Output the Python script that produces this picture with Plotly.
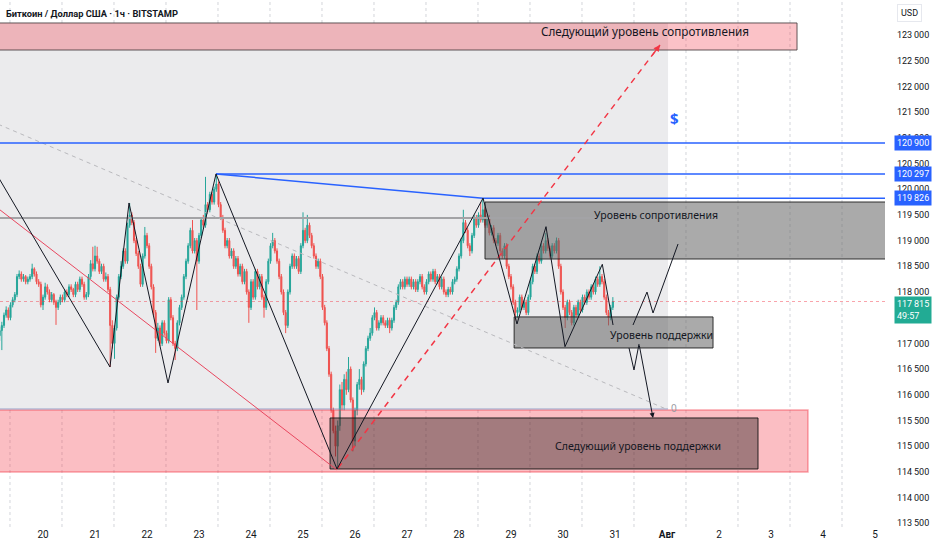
import plotly.graph_objects as go
from datetime import datetime, timedelta

# ---------------- data (BTC/USD, 1h, from Jul 19 04:00) ----------------
start_time = "2025-07-19 04:00"
first_open = 117150

close_jul19 = [117250, 117350, 117550, 117650, 117500, 117750, 117850, 117950, 118300, 118350,
               118250, 118300, 118200, 118250, 118300, 118450, 118350, 118200, 118150, 117750]
high_jul19 = [117320, 117420, 117600, 117720, 117700, 117800, 117900, 118000, 118350, 118420,
              118400, 118350, 118330, 118300, 118350, 118550, 118480, 118400, 118250, 118200]
low_jul19 = [117050, 116870, 117300, 117500, 117450, 117450, 117700, 117800, 117900, 118250,
             118200, 118200, 118150, 118150, 118200, 118250, 118300, 118150, 118100, 117700]

close_jul20 = [117900, 118100, 118000, 117850, 117950, 117800, 117700, 117800, 117900, 117850, 118000, 117950,
               118100, 118050, 117950, 118150, 118050, 118250, 118150, 117900, 117950, 118300, 118550, 118450]
high_jul20 = [117950, 118180, 118150, 118050, 118000, 117980, 117850, 117850, 117950, 117950, 118050, 118050,
              118150, 118150, 118080, 118200, 118200, 118300, 118300, 118200, 118000, 118350, 118620, 118880]
low_jul20 = [117650, 117850, 117950, 117800, 117800, 117750, 117360, 117650, 117750, 117800, 117800, 117900,
             117900, 118000, 117900, 117900, 118000, 118000, 118100, 117850, 117850, 117900, 118250, 118400]

close_jul21 = [118700, 118600, 118400, 118500, 118250, 118300, 118050, 117350, 117000, 117300, 117900, 118300,
               118500, 118800, 118600, 119300, 119500, 119350, 119000, 118750, 118500, 118150, 118700, 119100]
high_jul21 = [118900, 118880, 118650, 118550, 118550, 118380, 118350, 118100, 117450, 117350, 117950, 118350,
              118600, 118850, 118850, 119350, 119730, 119550, 119400, 119050, 118800, 118550, 118750, 119265]
low_jul21 = [118400, 118550, 118350, 118350, 118200, 118200, 118000, 116540, 116900, 116700, 117250, 117850,
             118250, 118450, 118550, 118550, 119250, 119300, 118950, 118700, 118450, 118100, 118100, 118650]

close_jul22 = [118900, 118500, 118100, 117600, 117100, 117300, 117000, 117400, 117200, 117050, 117850, 117500,
               117000, 116900, 117400, 117700, 117900, 118300, 118600, 118900, 119200, 118800, 119000, 118600]
high_jul22 = [119150, 118950, 118550, 118150, 117650, 117400, 117350, 117450, 117450, 117250, 117900, 117900,
              117550, 117050, 117450, 117750, 117950, 118350, 118650, 118950, 119250, 119400, 119050, 119050]
low_jul22 = [118850, 118450, 118050, 117550, 116815, 117050, 116950, 116950, 117150, 117000, 117000, 117450,
             116950, 116677, 116850, 117350, 117650, 117850, 118250, 118550, 118850, 118750, 118750, 117650]

close_jul23 = [119100, 119400, 119300, 119700, 119600, 119900, 119750, 120000, 120100, 119700, 119450, 119200,
               118900, 119000, 118700, 118800, 118500, 118650, 118350, 118500, 118200, 118400, 118000, 117700]
high_jul23 = [119150, 119450, 119500, 120240, 119750, 119950, 119950, 120050, 120297, 120150, 119750, 119500,
              119250, 119050, 119050, 118850, 118850, 118700, 118700, 118550, 118550, 118450, 118450, 118050]
low_jul23 = [118550, 119050, 119250, 119250, 119550, 119550, 119700, 119700, 119950, 119650, 119400, 119150,
             118850, 118850, 118650, 118650, 118450, 118450, 118300, 118300, 118150, 118150, 117950, 117400]

close_jul24 = [118200, 117900, 118400, 118100, 118300, 117900, 117700, 118200, 118600, 118900, 119000, 118800,
               118600, 118300, 118000, 117600, 117350, 118000, 118500, 118700, 118500, 118650, 118400, 118900]
high_jul24 = [118250, 118250, 118450, 118450, 118350, 118350, 117950, 118250, 118650, 118950, 119150, 119050,
              118850, 118650, 118350, 118050, 117650, 118050, 118550, 118750, 118750, 118700, 118700, 118950]
low_jul24 = [117650, 117850, 117850, 118050, 118050, 117850, 117500, 117650, 118150, 118550, 118850, 118750,
             118550, 118250, 117950, 117550, 117200, 117300, 117950, 118450, 118450, 118450, 118350, 118350]

close_jul25 = [119200, 119000, 119300, 119100, 118900, 118700, 118500, 118600, 118300, 117700, 117400, 116900,
               116400, 115700, 115300, 115000, 115400, 116100, 115800, 116300, 116100, 116500, 115900, 115100]
high_jul25 = [119550, 119250, 119500, 119350, 119150, 118950, 118750, 118650, 118650, 118350, 117750, 117450,
              116950, 116450, 115750, 115400, 115500, 116200, 116250, 116400, 116450, 116735, 116550, 115950]
low_jul25 = [118850, 118950, 118950, 119050, 118850, 118650, 118450, 118450, 118250, 117650, 117350, 116850,
             116350, 115650, 115250, 114800, 114560, 115300, 115700, 115700, 116000, 116050, 115850, 114900]

close_jul26 = [115700, 116200, 116300, 116100, 116600, 116900, 117100, 117200, 117500, 117600, 117300, 117400,
               117500, 117400, 117350, 117450, 117300, 117450, 117700, 117800, 118100, 118200, 118100, 118250]
high_jul26 = [115750, 116250, 116500, 116350, 116650, 116950, 117150, 117300, 117550, 117700, 117650, 117450,
              117550, 117550, 117450, 117500, 117500, 117500, 117750, 117850, 118150, 118250, 118250, 118300]
low_jul26 = [115000, 115600, 116100, 116000, 116050, 116550, 116850, 117050, 117150, 117450, 117250, 117250,
             117350, 117350, 117300, 117300, 117200, 117250, 117400, 117650, 117750, 118050, 118050, 118050]

close_jul27 = [118150, 118250, 118100, 118200, 118050, 118200, 118300, 118100, 118000, 118200, 118350, 118250,
               118400, 118200, 118300, 118100, 118250, 118000, 117950, 118050, 118000, 118200, 118250, 118450]
high_jul27 = [118300, 118300, 118300, 118250, 118250, 118250, 118350, 118350, 118150, 118250, 118400, 118400,
              118450, 118450, 118350, 118350, 118300, 118300, 118050, 118100, 118100, 118250, 118300, 118500]
low_jul27 = [118100, 118100, 118050, 118050, 118000, 118000, 118150, 118050, 117950, 117950, 118150, 118200,
             118200, 118150, 118150, 118050, 118050, 117950, 117900, 117900, 117950, 117950, 118150, 118200]

close_jul28 = [118700, 119000, 119350, 119200, 118900, 118800, 119100, 119450, 119300, 119500, 119400, 119600,
               119300, 119450, 119150, 119250, 119000, 118950, 119100, 118800, 118700, 118900, 118500, 118300]
high_jul28 = [118750, 119050, 119600, 119400, 119250, 118950, 119150, 119500, 119500, 119550, 119750, 119826,
              119650, 119500, 119500, 119300, 119300, 119050, 119150, 119150, 118850, 118950, 118950, 118550]
low_jul28 = [118400, 118650, 118950, 119150, 118850, 118700, 118750, 119050, 119250, 119250, 119350, 119350,
             119250, 119250, 119100, 119100, 118950, 118900, 118900, 118750, 118650, 118650, 118450, 118250]

close_jul29 = [118100, 117800, 117600, 117650, 117900, 117700, 117800, 117600, 117900, 118200, 118500, 118400,
               118700, 118600, 118900, 118800, 119000, 118850, 118700, 118900, 118800, 119000, 118500, 118000]
high_jul29 = [118350, 118150, 117850, 117700, 117950, 117950, 117850, 117850, 117950, 118250, 118550, 118550,
              118750, 118750, 118950, 118950, 119150, 119050, 118900, 118950, 118950, 119060, 119050, 118550]
low_jul29 = [118050, 117750, 117450, 117500, 117600, 117650, 117650, 117550, 117550, 117850, 118150, 118350,
             118350, 118550, 118550, 118750, 118750, 118800, 118650, 118650, 118750, 118750, 118450, 117950]

close_jul30 = [117700, 117500, 117800, 117600, 117400, 117700, 117550, 117800, 117650, 117900, 117800, 118000,
               117900, 118100, 118000, 118250, 118150, 118300, 118200, 117900, 117600, 117500, 117700, 117815]
high_jul30 = [118050, 117750, 117850, 117850, 117650, 117750, 117750, 117850, 117850, 117950, 117950, 118050,
              118050, 118150, 118150, 118300, 118300, 118500, 118350, 118250, 117950, 117650, 117750, 117900]
low_jul30 = [117650, 117300, 117450, 117550, 117350, 117350, 117500, 117500, 117600, 117600, 117750, 117750,
             117850, 117850, 117950, 117950, 118100, 118100, 118150, 117850, 117550, 117350, 117450, 117650]

date_tick_days = [20, 21, 22, 23, 24, 25, 26, 27, 28, 29, 30, 31, 32, 33, 34, 35, 36]
date_tick_text = ["20", "21", "22", "23", "24", "25", "26", "27", "28", "29", "30", "31",
                  "<b>Авг</b>", "2", "3", "4", "5"]
price_ticks = list(range(113500, 123001, 500))

level_tags = [120900, 120297, 119826]
last_price = 117815
countdown = "49:57"

# ---------------- assemble ----------------
closes = (close_jul19 + close_jul20 + close_jul21 + close_jul22 + close_jul23 + close_jul24 +
          close_jul25 + close_jul26 + close_jul27 + close_jul28 + close_jul29 + close_jul30)
highs = (high_jul19 + high_jul20 + high_jul21 + high_jul22 + high_jul23 + high_jul24 +
         high_jul25 + high_jul26 + high_jul27 + high_jul28 + high_jul29 + high_jul30)
lows = (low_jul19 + low_jul20 + low_jul21 + low_jul22 + low_jul23 + low_jul24 +
        low_jul25 + low_jul26 + low_jul27 + low_jul28 + low_jul29 + low_jul30)
opens = [first_open] + closes[:-1]
highs = [max(h, o, c) for h, o, c in zip(highs, opens, closes)]
lows = [min(l, o, c) for l, o, c in zip(lows, opens, closes)]
t0 = datetime.strptime(start_time, "%Y-%m-%d %H:%M")
times = [t0 + timedelta(hours=i) for i in range(len(closes))]


def T(d):
    """July day number (Aug 1 = 32) -> timestamp string"""
    return (datetime(2025, 7, 1) + timedelta(days=d - 1)).strftime("%Y-%m-%d %H:%M:%S")


def fmt(v):
    return f"{v // 1000}\u2009{v % 1000:03d}"


TXT = "#131722"
UP = "#26a69a"
DOWN = "#ef5350"
BLUE = "#2962FF"
RED = "#F23645"
AXF = "Roboto"

fig = go.Figure()
fig.add_trace(go.Candlestick(
    x=times, open=opens, high=highs, low=lows, close=closes,
    increasing=dict(line=dict(color=UP, width=1), fillcolor=UP),
    decreasing=dict(line=dict(color=DOWN, width=1), fillcolor=DOWN),
    whiskerwidth=0, showlegend=False, hoverinfo="skip"))

shapes = []
# grey forecast region (under grid)
shapes.append(dict(type="rect", layer="below", xref="x", yref="y", x0=T(18.5), x1=T(32.02),
                   y0=115720, y1=123234, fillcolor="#ebebed", line=dict(width=0)))
# dashed vertical grid
for k in range(18):
    d = 19.365 + k
    shapes.append(dict(type="line", layer="below", xref="x", yref="paper", x0=T(d), x1=T(d), y0=0, y1=1,
                       line=dict(color="#d3d5db", width=1, dash="3px,3px")))


def rect(x0, x1, y0, y1, fill, lcol, lw=1):
    shapes.append(dict(type="rect", layer="above", xref="x", yref="y", x0=T(x0), x1=T(x1), y0=y0, y1=y1,
                       fillcolor=fill, line=dict(color=lcol, width=lw)))


def line(p, q, color, width=1, dash=None):
    ln = dict(color=color, width=width)
    if dash:
        ln["dash"] = dash
    shapes.append(dict(type="line", layer="above", xref="x", yref="y",
                       x0=T(p[0]), y0=p[1], x1=T(q[0]), y1=q[1], line=ln))


def poly(pts, color, width=1):
    for a, b in zip(pts[:-1], pts[1:]):
        line(a, b, color, width)


# boxes
rect(18.5, 34.5, 122708, 123234, "rgba(242,54,69,0.30)", "rgba(70,60,62,0.85)")
rect(18.5, 34.71, 114498, 115704, "rgba(242,54,69,0.32)", "rgba(242,54,69,0.45)", 1.5)
rect(25.52, 33.75, 114557, 115549, "rgba(40,30,30,0.42)", "rgba(20,20,20,0.9)")
rect(28.5, 37.5, 118642, 119751, "rgba(100,100,100,0.55)", "rgba(30,30,30,0.9)")
rect(29.06, 32.885, 116911, 117515, "rgba(100,100,100,0.55)", "rgba(30,30,30,0.9)")
# grey region lower border
line((18.5, 115724), (32.02, 115724), "rgba(120,135,190,0.7)", 1)

# grey horizontal level
line((18.5, 119440), (32.02, 119440), "#a3a3a6", 2)
# grey dashed diagonal
line((19.0, 121323), (31.981, 115724), "#b9b9bd", 1, "4px,4px")
# red thin diagonal
line((19.0, 119732), (25.654, 114537), "#e8475f", 1)
# blue levels
line((18.5, 120900), (37.5, 120900), BLUE, 1.5)
line((23.327, 120297), (37.5, 120297), BLUE, 1.5)
line((23.327, 120297), (28.462, 119826), BLUE, 1.5)
line((28.462, 119826), (37.5, 119826), BLUE, 1.5)
# red dashed projection
line((25.673, 114576), (31.865, 122806), RED, 1.5, "6px,5px")
# current price dotted line
shapes.append(dict(type="line", layer="above", xref="paper", yref="y", x0=0, x1=1, y0=last_price,
                   y1=last_price, line=dict(color="rgba(242,54,69,0.45)", width=1, dash="dot")))

# black zigzags
poly([(19.0, 120477), (21.288, 116541), (21.654, 119732), (22.404, 116230), (23.327, 120297),
      (25.654, 114557), (28.462, 119826), (29.115, 117378), (29.673, 119271), (30.038, 116936),
      (30.756, 118539), (30.962, 117358)], "#131722", 1)
poly([(31.346, 117358), (31.615, 117999), (31.731, 117592), (32.212, 118934)], "#131722", 1)
poly([(31.269, 116911), (31.365, 116483), (31.462, 116989)], "#131722", 1)

anns = []
# bearish arrow last leg
anns.append(dict(x=T(31.731), y=115549, xref="x", yref="y", ax=-14, ay=-74, showarrow=True,
                 arrowhead=2, arrowsize=1, arrowwidth=1, arrowcolor="#131722", text=""))
# red dashed arrowhead
anns.append(dict(x=T(31.865), y=122806, xref="x", yref="y", ax=-9, ay=12, showarrow=True,
                 arrowhead=2, arrowsize=1, arrowwidth=1.3, arrowcolor=RED, text=""))


def label(d, p, text, size=10.5, color=TXT, **kw):
    anns.append(dict(x=T(d), y=p, xref="x", yref="y", text=text, showarrow=False,
                     font=dict(family="Noto Sans, Arial", size=size, color=color), **kw))


label(31.58, 123078, "Следующий уровень сопротивления", size=11.7)
label(31.79, 119498, "Уровень сопротивления")
label(31.90, 117164, "Уровень поддержки")
label(31.44, 115004, "Следующий уровень поддержки")
label(32.15, 121385, "<b>$</b>", size=15, color=BLUE)
label(32.13, 115743, "0", size=10, color="#9a9ca3")

# header
anns.append(dict(xref="paper", yref="paper", x=0, y=1, xanchor="left", yanchor="top", xshift=4, yshift=-6,
                 text="<b>Биткоин / Доллар США · 1ч · BITSTAMP</b>", showarrow=False,
                 font=dict(family="Roboto", size=9.3, color=TXT)))
# currency box
anns.append(dict(xref="paper", yref="paper", x=1, y=1, xanchor="left", yanchor="top", xshift=12, yshift=-4,
                 text="USD", showarrow=False, bgcolor="white", bordercolor="#e6e8ee", borderwidth=1,
                 borderpad=3, font=dict(family=AXF, size=9, color=TXT)))
# price tags
for v in level_tags:
    anns.append(dict(xref="paper", yref="y", x=1, y=v, xanchor="left", yanchor="middle", xshift=9,
                     text=fmt(v), showarrow=False, bgcolor=BLUE, borderpad=2,
                     font=dict(family=AXF, size=9, color="white")))
anns.append(dict(xref="paper", yref="y", x=1, y=last_price, xanchor="left", yanchor="top", xshift=9, yshift=6,
                 text=fmt(last_price) + "<br>" + countdown, showarrow=False, bgcolor="#22ab94", borderpad=2,
                 align="left", font=dict(family=AXF, size=9, color="white")))

fig.update_layout(
    width=932, height=550, margin=dict(l=0, r=47, t=0, b=23, autoexpand=False),
    paper_bgcolor="white", plot_bgcolor="white", showlegend=False,
    shapes=shapes, annotations=anns,
    xaxis=dict(type="date", range=[T(19.173), T(36.192)], showgrid=False, zeroline=False,
               rangeslider=dict(visible=False), tickvals=[T(d) for d in date_tick_days],
               ticktext=date_tick_text, ticks="", tickfont=dict(family=AXF, size=10, color=TXT),
               showline=False, fixedrange=True, automargin=False),
    yaxis=dict(side="right", range=[113428, 123681], showgrid=False, zeroline=False,
               tickvals=price_ticks, ticktext=[fmt(v) for v in price_ticks], ticks="",
               ticklabelstandoff=11, tickfont=dict(family=AXF, size=9, color=TXT),
               showline=False, fixedrange=True, automargin=False),
)

fig.write_html("out.html", config={"displayModeBar": False},
               post_script="document.body.style.margin='0';document.body.style.padding='0';")
